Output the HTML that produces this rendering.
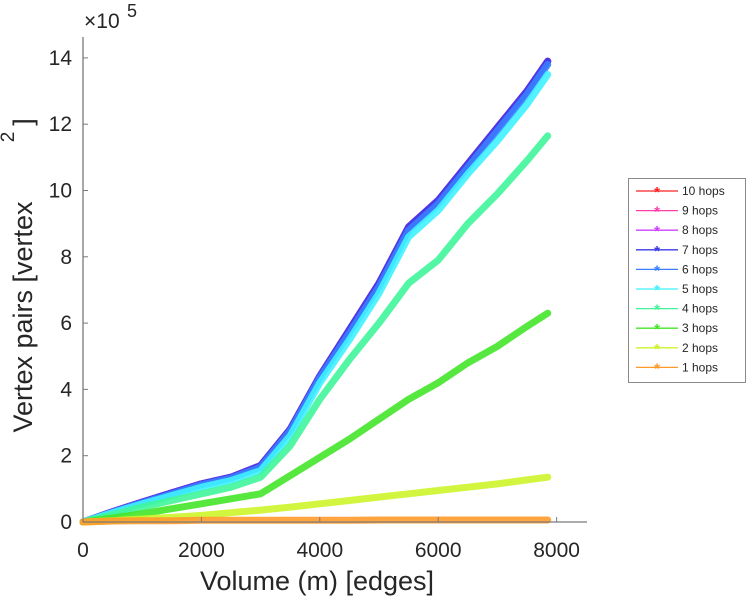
<!DOCTYPE html>
<html><head><meta charset="utf-8"><style>
body{margin:0;background:#fff}
svg{display:block;font-family:"Liberation Sans",sans-serif}
</style></head><body>
<svg id="chart" width="748" height="600" viewBox="0 0 748 600" xmlns="http://www.w3.org/2000/svg">
<g id="plot"></g>
<g id="axes"></g>
<g id="legend"></g>
</svg>
<script>
const xValues = [0,500,1000,1500,2000,2500,3000,3500,4000,4500,5000,5500,6000,6500,7000,7500,7850];
const hops1 = [0,0.03,0.04,0.04,0.05,0.05,0.05,0.05,0.05,0.05,0.06,0.06,0.06,0.06,0.06,0.06,0.06];
const hops2 = [0,0.04,0.09,0.14,0.2,0.28,0.36,0.45,0.55,0.65,0.75,0.85,0.95,1.05,1.15,1.27,1.35];
const hops3 = [0,0.12,0.25,0.4,0.55,0.7,0.85,1.4,1.95,2.5,3.1,3.7,4.2,4.8,5.3,5.9,6.3];
const hops4 = [0,0.22,0.45,0.65,0.85,1.05,1.35,2.3,3.7,4.9,6.0,7.2,7.9,9.0,9.9,10.9,11.65];
const hops5 = [0,0.28,0.55,0.8,1.05,1.25,1.55,2.6,4.2,5.5,6.9,8.6,9.4,10.5,11.5,12.6,13.5];
const hops6 = [0,0.3,0.58,0.85,1.12,1.32,1.65,2.75,4.35,5.7,7.1,8.8,9.6,10.7,11.8,12.9,13.8];
const hops7 = [0,0.31,0.6,0.88,1.15,1.35,1.7,2.8,4.4,5.8,7.2,8.9,9.7,10.8,11.9,13.0,13.9];
const hops8 = hops7, hops9 = hops7, hops10 = hops7;
const seriesNames = ["10 hops","9 hops","8 hops","7 hops","6 hops","5 hops","4 hops","3 hops","2 hops","1 hops"];
const seriesData = [hops10,hops9,hops8,hops7,hops6,hops5,hops4,hops3,hops2,hops1];
const seriesColors = ["#ff2020","#ff3fa6","#cc40ff","#3a3ae6","#3a7fff","#3ff2ff","#3ff59a","#45e62a","#cdf52a","#ff9a2a"];
const xTicks = [0,2000,4000,6000,8000];
const yTicks = [0,2,4,6,8,10,12,14];

const NS="http://www.w3.org/2000/svg";
const X = v => 83 + v*0.0592;
const Y = v => 522 - v*33.15;
function mk(tag, parent, attrs){const e=document.createElementNS(NS,tag);for(const k in attrs)e.setAttribute(k,attrs[k]);parent.appendChild(e);return e;}
const plot=document.getElementById('plot'), axes=document.getElementById('axes'), leg=document.getElementById('legend');

// draw order: 10,9,8 first (hidden under 7), then 7..1
for(let s=0;s<seriesData.length;s++){
  const d=seriesData[s];
  const g=mk('g',plot,{});
  
  
  const pts=d.map((v,i)=>X(xValues[i]).toFixed(1)+','+Y(v).toFixed(1)).join(' ');
  const pl=mk('polyline',g,{points:pts,fill:'none',stroke:seriesColors[s],'stroke-width':7,'stroke-linejoin':'round','stroke-linecap':'round',opacity:0.9});
  
  
}

// axes
mk('line',axes,{x1:83,y1:37,x2:83,y2:522,stroke:'#7a7a7a','stroke-width':1.3});
mk('line',axes,{x1:83,y1:522,x2:587,y2:522,stroke:'#7a7a7a','stroke-width':1.3});
xTicks.forEach(t=>{
  mk('line',axes,{x1:X(t),y1:522,x2:X(t),y2:517,stroke:'#7a7a7a'});
  const tx=mk('text',axes,{x:X(t),y:557,'text-anchor':'middle','font-size':21,fill:'#262626'});
  tx.textContent=t;
  
  
});
yTicks.forEach(t=>{
  mk('line',axes,{x1:83,y1:Y(t),x2:88,y2:Y(t),stroke:'#7a7a7a'});
  const tx=mk('text',axes,{x:72,y:Y(t)+7,'text-anchor':'end','font-size':21,fill:'#262626'});
  tx.textContent=t;
  
  
});
let e=mk('text',axes,{x:84,y:28,'font-size':21,fill:'#262626'});e.textContent='×10';

e=mk('text',axes,{x:127,y:17,'font-size':18,fill:'#262626'});e.textContent='5';

e=mk('text',axes,{x:317,y:590,'text-anchor':'middle','font-size':27,fill:'#262626'});e.textContent='Volume (m) [edges]';

e=mk('text',axes,{x:0,y:0,'text-anchor':'middle','font-size':27,fill:'#262626',transform:'translate(32,317) rotate(-90)'});e.textContent='Vertex pairs [vertex';

e=mk('text',axes,{x:0,y:0,'text-anchor':'middle','font-size':27,fill:'#262626',transform:'translate(32,122) rotate(-90)'});e.textContent=']';

e=mk('text',axes,{x:0,y:0,'text-anchor':'middle','font-size':19,fill:'#262626',transform:'translate(14,137) rotate(-90)'});e.textContent='2';


// legend
mk('rect',leg,{x:628.5,y:178.5,width:117,height:204,fill:'#fff',stroke:'#8a8a8a','stroke-width':1});
seriesNames.forEach((n,i)=>{
  const y=191+i*19.6;
  const g=mk('g',leg,{});
  
  
  mk('line',g,{x1:636,y1:y,x2:678,y2:y,stroke:seriesColors[i],'stroke-width':1.3});
  const m=mk('text',g,{x:657,y:y+6,'text-anchor':'middle','font-size':15,'font-weight':'bold',fill:seriesColors[i]});m.textContent='*';
  const t=mk('text',g,{x:682,y:y+4,'font-size':12,fill:'#262626'});t.textContent=n;
});
</script>
</body></html>
